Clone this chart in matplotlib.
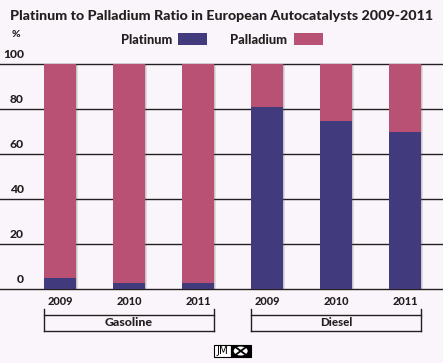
import matplotlib
matplotlib.use("Agg")
import matplotlib.pyplot as plt
import matplotlib.transforms as mtransforms
from matplotlib.patches import Rectangle, Ellipse
import numpy as np

# ---- data ----
years = ["2009", "2010", "2011", "2009", "2010", "2011"]
groups = ["Gasoline", "Diesel"]
group_sizes = [3, 3]
platinum = [5, 3, 3, 81, 75, 70]
palladium = [95, 97, 97, 19, 25, 30]
yticks = [0, 20, 40, 60, 80, 100]

title = "Platinum to Palladium Ratio in European Autocatalysts 2009-2011"
c_pt = "#413B7E"
c_pd = "#B85173"
bg = "#FAF5FA"
ink = "#231F20"
FONT = ["Lato", "DejaVu Sans"]
WT = "black"

W, H = 443, 363
fig = plt.figure(figsize=(W / 100, H / 100), dpi=100, facecolor=bg)
renderer = fig.canvas.get_renderer()

def fx(px):
    return px / W

def fy(py):
    return 1 - py / H

def fit(t, width_px):
    t.set_fontsize(10)
    w = t.get_window_extent(renderer).width
    t.set_fontsize(10 * width_px / w)
    return t

ax = fig.add_axes([0, fy(289.3), 1, (289.3 - 64.3) / H])
ax.set_facecolor(bg)
for s in ax.spines.values():
    s.set_visible(False)
ax.set_xticks([])
ax.set_yticks([])

x = np.arange(len(years))
bw = 0.45
ax.set_xlim(-60 / 69, (W - 60) / 69)
ax.set_ylim(0, 100)

# gridlines
for t in yticks:
    ax.axhline(t, color=ink, lw=1.0, zorder=1, clip_on=False)
    lab = ax.annotate(str(t), xy=(0, t), xycoords=("axes fraction", "data"),
                      xytext=(24, 4.5), textcoords="offset pixels", ha="right", va="bottom",
                      fontweight=WT, color=ink, family=FONT)
    fit(lab, 7 * len(str(t)))

totals = np.array(platinum) + np.array(palladium)
# shadows
for k in range(5):
    off = (k + 1) * 0.012
    ax.bar(x + bw / 2 + off / 2, totals, width=0.014, bottom=0,
           color="#555555", alpha=0.22 - k * 0.04, zorder=2, linewidth=0,
           align="center")
ax.bar(x, platinum, width=bw, color=c_pt, zorder=3, linewidth=0)
ax.bar(x, palladium, width=bw, bottom=platinum, color=c_pd, zorder=3, linewidth=0)

# x labels
blend = mtransforms.blended_transform_factory(ax.transData, fig.transFigure)
for xi, yr in zip(x, years):
    t = fig.text(xi, fy(301.5), yr, transform=blend, ha="center", va="center",
                 fontweight=WT, color=ink, family=FONT)
    fit(t, 25.5)

# group brackets
start = 0
gw = {"Gasoline": 48, "Diesel": 32}
for g, n in zip(groups, group_sizes):
    x0 = x[start] - bw / 2
    x1 = x[start + n - 1] + bw / 2
    y_top_tick = fy(309)
    y_top = fy(314.7)
    y_bot = fy(331)
    fig.add_artist(plt.Line2D([x0, x0], [y_top_tick, y_bot], transform=blend, color=ink, lw=1.0))
    fig.add_artist(plt.Line2D([x1, x1], [y_top_tick, y_bot], transform=blend, color=ink, lw=1.0))
    fig.add_artist(plt.Line2D([x0, x1], [y_top, y_top], transform=blend, color=ink, lw=1.0))
    fig.add_artist(plt.Line2D([x0, x1], [y_bot, y_bot], transform=blend, color=ink, lw=1.0))
    t = fig.text((x0 + x1) / 2, fy(322.5), g, transform=blend, ha="center", va="center",
                 fontweight=WT, color=ink, family=FONT)
    fit(t, gw[g])
    start += n

# title
t = fig.text(fx(222), fy(16.5), title, ha="center", va="center",
             fontweight=WT, color=ink, family=FONT)
fit(t, 422)
fig.text(fx(16), fy(34.5), "%", ha="center", va="center", fontsize=7.5,
         fontweight=WT, color=ink, family=FONT)

# legend
t = fig.text(fx(172), fy(40), "Platinum", ha="right", va="center",
             fontweight=WT, color=ink, family=FONT)
fit(t, 51)
fig.add_artist(Rectangle((fx(178), fy(44.7)), fx(29), (44.7 - 33.3) / H,
                         transform=fig.transFigure, color=c_pt, lw=0))
t = fig.text(fx(287), fy(40), "Palladium", ha="right", va="center",
             fontweight=WT, color=ink, family=FONT)
fit(t, 57)
fig.add_artist(Rectangle((fx(294), fy(44.7)), fx(28.5), (44.7 - 33.3) / H,
                         transform=fig.transFigure, color=c_pd, lw=0))

# JM logo
fig.add_artist(Rectangle((fx(213.5), fy(357.3)), fx(17.5), 12.6 / H,
                         transform=fig.transFigure, facecolor="white", edgecolor="black", lw=0.8))
fig.text(fx(222.2), fy(351), "JM", ha="center", va="center", fontsize=7.5,
         color="black", family=["DejaVu Sans"])
fig.add_artist(Rectangle((fx(231), fy(357.3)), fx(19.5), 12.6 / H,
                         transform=fig.transFigure, facecolor="black", edgecolor="black", lw=0.8))
fig.add_artist(Ellipse((fx(240.7), fy(351)), fx(14), 9 / H, transform=fig.transFigure,
                       facecolor="white", lw=0))
fig.add_artist(plt.Line2D([fx(236), fx(245.5)], [fy(347.5), fy(354.5)], transform=fig.transFigure, color="black", lw=1.3))
fig.add_artist(plt.Line2D([fx(236), fx(245.5)], [fy(354.5), fy(347.5)], transform=fig.transFigure, color="black", lw=1.3))

fig.savefig("out.png", dpi=100, facecolor=bg)
